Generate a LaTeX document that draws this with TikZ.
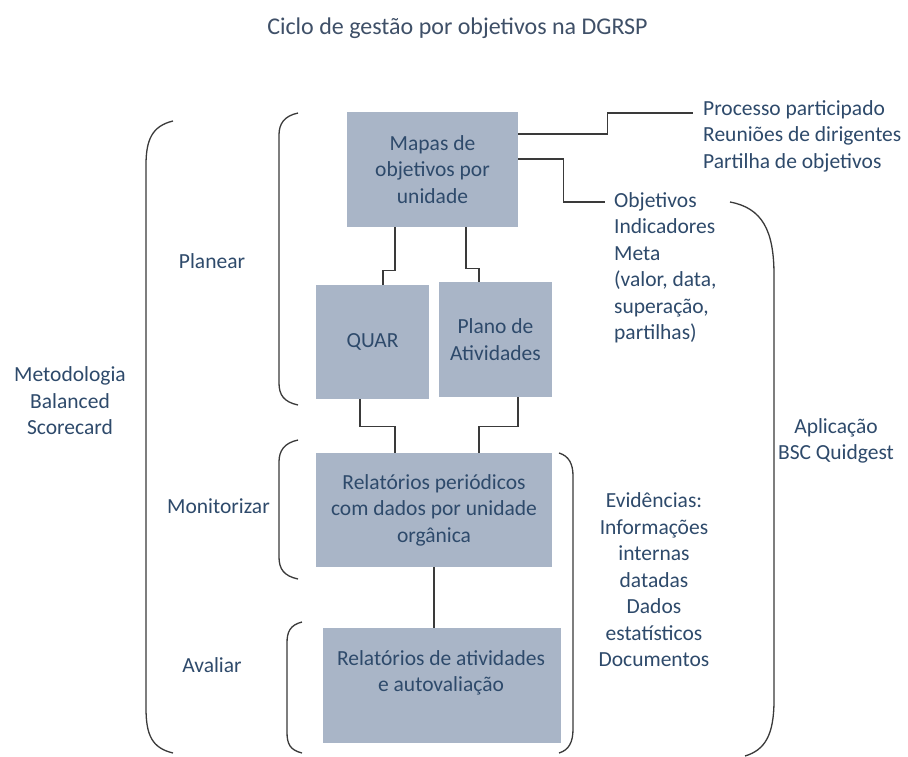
\documentclass[tikz,border=0pt]{standalone}
\usepackage{fontspec}
\setmainfont{Carlito}
\usetikzlibrary{calc}
\definecolor{boxfill}{HTML}{A9B5C7}
\definecolor{txt}{HTML}{2E4A6B}
\definecolor{ttl}{HTML}{3F5068}
\definecolor{ln}{HTML}{3A3A3A}
\begin{document}
\begin{tikzpicture}[x=1pt,y=-1pt,
  box/.style={fill=boxfill, text=txt, align=center, inner sep=0pt, font=\fontsize{21.5}{26.5}\selectfont},
  lbl/.style={text=txt, inner sep=0pt, font=\fontsize{21.5}{26.5}\selectfont},
  conn/.style={draw=ln, line width=1.2pt},
  brk/.style={draw=ln, line width=1.3pt}]
\useasboundingbox[fill=white] (0,0) rectangle (908,756);

% title
\node[text=ttl, inner sep=0pt, font=\fontsize{24}{28}\selectfont] (title) at (457.5,28) {Ciclo de gestão por objetivos na DGRSP};

% boxes
\node[box, minimum width=171pt, minimum height=115pt] (mapas) at (432.5,169.5) {Mapas de\\objetivos por\\unidade};
\node[box, minimum width=113pt, minimum height=114pt] (quar) at (372.5,342) {QUAR};
\node[box, minimum width=113pt, minimum height=115pt] (plano) at (495.5,339.5) {Plano de\\Atividades};
\node[box, minimum width=236pt, minimum height=114pt] (relp) at (434,510) {Relatórios periódicos\\com dados por unidade\\orgânica};
\node[box, minimum width=238pt, minimum height=115pt] (rela) at (442,685.5) {};
\node[lbl, align=center] (relat) at (441,673) {Relatórios de atividades\\e autovaliação};

% left labels
\node[lbl, align=center] (metod) at (70,401) {Metodologia\\Balanced\\Scorecard};
\node[lbl] (planear) at (212,261) {Planear};
\node[lbl] (monit) at (218.5,506) {Monitorizar};
\node[lbl] (aval) at (212,665) {Avaliar};

% right labels
\node[lbl, align=left, anchor=west] (proc) at (703,136) {Processo participado\\Reuniões de dirigentes\\Partilha de objetivos};
\node[lbl, align=left, anchor=west] (obj) at (614,268) {Objetivos\\Indicadores\\Meta\\(valor, data,\\superação,\\partilhas)};
\node[lbl, align=center] (evid) at (654,580) {Evidências:\\Informações\\internas\\datadas\\Dados\\estatísticos\\Documentos};
\node[lbl, align=center] (aplic) at (836,441) {Aplicação\\BSC Quidgest};

% connectors
\draw[conn] ([xshift=-37.5pt]mapas.south) -- ++(0,43) -| ([xshift=10.5pt]quar.north);
\draw[conn] ([xshift=33.5pt]mapas.south) -- ++(0,41) -| ([xshift=-16.5pt]plano.north);
\draw[conn] ([xshift=-12.5pt]quar.south) -- ++(0,27) -| ([xshift=-39pt]relp.north);
\draw[conn] ([xshift=22.5pt]plano.south) -- ++(0,29) -| ([xshift=45pt]relp.north);
\draw[conn] (relp.south) -- (relp.south |- rela.north);
\draw[conn] ([yshift=35.5pt]mapas.east) -- ++(89,0) |- ([xshift=-10pt,yshift=23pt]proc.west);
\draw[conn] ([yshift=10.5pt]mapas.east) -- ++(45,0) |- ([xshift=-9pt,yshift=66pt]obj.west);

% brackets
\draw[brk] (173,121) .. controls (152,126) and (146,140) .. (146,165) -- (146,708) .. controls (146,735) and (152,748) .. (173,753);
\draw[brk] (298,113) .. controls (284,116) and (279,124) .. (279,135) -- (279,383) .. controls (279,395) and (284,402) .. (298,405);
\draw[brk] (298,440) .. controls (284,443) and (279,451) .. (279,462) -- (279,557) .. controls (279,569) and (284,576) .. (298,579);
\draw[brk] (302,622) .. controls (290,625) and (287,632) .. (287,643) -- (287,732) .. controls (287,744) and (290,750) .. (302,753);
\draw[brk] (559,453) .. controls (569,456) and (573,464) .. (573,476) -- (573,729) .. controls (573,742) and (569,750) .. (559,753);
\draw[brk] (730,202) .. controls (762,208) and (774,230) .. (774,275) -- (774,700) .. controls (774,735) and (765,750) .. (745,756);
\end{tikzpicture}
\end{document}
